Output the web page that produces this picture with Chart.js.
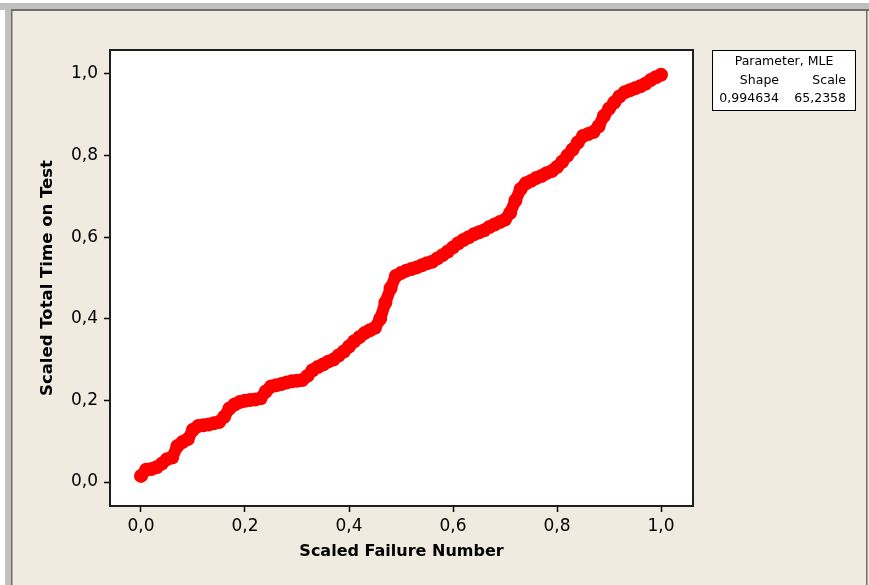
<!DOCTYPE html>
<html>
<head>
<meta charset="utf-8">
<title>TTT Plot</title>
<script src="https://cdn.jsdelivr.net/npm/chart.js@4.4.1/dist/chart.umd.min.js"></script>
<style>
  html, body { margin: 0; padding: 0; background: #efebe1; }
  canvas { display: block; }
</style>
</head>
<body>
<canvas id="ttt" width="869" height="585"></canvas>
<script>
// TTT plot - scaled failure number vs scaled total time on test

var failureNumber = [
  0.00, 0.01, 0.02, 0.03, 0.04, 0.05, 0.06, 0.07, 0.08, 0.09,
  0.10, 0.11, 0.12, 0.13, 0.14, 0.15, 0.16, 0.17, 0.18, 0.19,
  0.20, 0.21, 0.22, 0.23, 0.24, 0.25, 0.26, 0.27, 0.28, 0.29,
  0.30, 0.31, 0.32, 0.33, 0.34, 0.35, 0.36, 0.37, 0.38, 0.39,
  0.40, 0.41, 0.42, 0.43, 0.44, 0.45, 0.46, 0.47, 0.48, 0.49,
  0.50, 0.51, 0.52, 0.53, 0.54, 0.55, 0.56, 0.57, 0.58, 0.59,
  0.60, 0.61, 0.62, 0.63, 0.64, 0.65, 0.66, 0.67, 0.68, 0.69,
  0.70, 0.71, 0.72, 0.73, 0.74, 0.75, 0.76, 0.77, 0.78, 0.79,
  0.80, 0.81, 0.82, 0.83, 0.84, 0.85, 0.86, 0.87, 0.88, 0.89,
  0.90, 0.91, 0.92, 0.93, 0.94, 0.95, 0.96, 0.97, 0.98, 0.99,
  1.00
];

var timeOnTest = [
  0.015, 0.030, 0.032, 0.036, 0.045, 0.056, 0.060, 0.088, 0.098, 0.105,
  0.128, 0.137, 0.139, 0.141, 0.144, 0.147, 0.160, 0.180, 0.190, 0.196,
  0.199, 0.201, 0.202, 0.205, 0.222, 0.234, 0.237, 0.240, 0.244, 0.247,
  0.248, 0.250, 0.260, 0.274, 0.282, 0.288, 0.295, 0.300, 0.310, 0.320,
  0.332, 0.345, 0.355, 0.365, 0.372, 0.378, 0.400, 0.440, 0.475, 0.505,
  0.512, 0.518, 0.522, 0.526, 0.531, 0.536, 0.540, 0.548, 0.556, 0.565,
  0.575, 0.585, 0.593, 0.600, 0.607, 0.612, 0.617, 0.625, 0.631, 0.637,
  0.643, 0.660, 0.690, 0.718, 0.732, 0.738, 0.745, 0.750, 0.757, 0.762,
  0.772, 0.785, 0.800, 0.815, 0.832, 0.848, 0.853, 0.858, 0.872, 0.897,
  0.915, 0.930, 0.945, 0.955, 0.960, 0.965, 0.970, 0.976, 0.985, 0.992,
  0.998
];

var tickValues = [0.0, 0.2, 0.4, 0.6, 0.8, 1.0];

var paramHeader = 'Parameter, MLE';
var paramNames = ['Shape', 'Scale'];
var paramValues = ['0,994634', '65,2358'];

var points = failureNumber.map(function (x, i) {
  return { x: x, y: timeOnTest[i] };
});

function commaLabel(v) {
  return v.toFixed(1).replace('.', ',');
}

function keepTicks(scale) {
  scale.ticks = tickValues.map(function (v) { return { value: v }; });
}

// window frame, white plot area and the border around it
var framePlugin = {
  id: 'frame',
  beforeDraw: function (chart) {
    var c = chart.ctx;
    var a = chart.chartArea;
    c.save();
    c.fillStyle = '#ffffff';
    c.fillRect(0, 0, chart.width, chart.height);
    c.fillStyle = '#c0c0c0';
    c.fillRect(0, 3, chart.width, 7);
    c.fillRect(5, 3, 6, chart.height);
    c.fillStyle = '#efebe1';
    c.fillRect(12, 11, chart.width - 12, chart.height - 11);
    c.fillStyle = '#6e6e6e';
    c.fillRect(11, 9, chart.width - 11, 2);
    c.fillRect(11, 9, 1.5, chart.height);
    c.fillRect(866, 9, 1.5, chart.height);
    c.fillStyle = '#ffffff';
    c.fillRect(a.left, a.top, a.right - a.left, a.bottom - a.top);
    c.restore();
  },
  afterDatasetsDraw: function (chart) {
    var c = chart.ctx;
    var a = chart.chartArea;
    c.save();
    c.strokeStyle = '#1e1e1e';
    c.lineWidth = 2;
    c.strokeRect(a.left, a.top, a.right - a.left, a.bottom - a.top);
    c.restore();
  }
};

// parameter table in the top right
var paramPlugin = {
  id: 'params',
  afterDraw: function (chart) {
    var c = chart.ctx;
    c.save();
    c.fillStyle = '#ffffff';
    c.fillRect(712, 50, 144, 61);
    c.strokeStyle = '#000000';
    c.lineWidth = 1;
    c.strokeRect(712.5, 50.5, 143, 60);
    c.fillStyle = '#000000';
    c.font = '12.5px "DejaVu Sans"';
    c.textBaseline = 'middle';
    c.textAlign = 'center';
    c.fillText(paramHeader, 784, 62);
    c.textAlign = 'right';
    c.fillText(paramNames[0], 779, 81);
    c.fillText(paramNames[1], 846, 81);
    c.fillText(paramValues[0], 779, 99);
    c.fillText(paramValues[1], 846, 99);
    c.restore();
  }
};

var ctx = document.getElementById('ttt').getContext('2d');
var chart = new Chart(ctx, {
  type: 'scatter',
  data: {
    datasets: [{
      data: points,
      showLine: true,
      borderColor: '#ff0000',
      borderWidth: 12,
      backgroundColor: '#ff0000',
      pointBackgroundColor: '#ff0000',
      pointBorderWidth: 0,
      pointRadius: 7,
      borderJoinStyle: 'round',
      borderCapStyle: 'round'
    }]
  },
  options: {
    responsive: false,
    animation: false,
    layout: { padding: { left: 0, top: 50, right: 176, bottom: 0 } },
    plugins: {
      legend: { display: false },
      tooltip: { enabled: false }
    },
    scales: {
      x: {
        type: 'linear',
        min: -0.0596,
        max: 1.0615,
        afterBuildTicks: keepTicks,
        afterFit: function (scale) { scale.height = 79; },
        border: { display: false },
        grid: {
          drawOnChartArea: false,
          drawTicks: true,
          tickLength: 6,
          tickWidth: 1.5,
          color: '#000000'
        },
        ticks: {
          color: '#000000',
          padding: 4,
          maxRotation: 0,
          font: { family: '"DejaVu Sans"', size: 17 },
          callback: function (v) { return commaLabel(v); }
        },
        title: {
          display: true,
          text: 'Scaled Failure Number',
          color: '#000000',
          font: { family: '"DejaVu Sans"', size: 16, weight: 'bold' },
          padding: { top: 0, bottom: 24 }
        }
      },
      y: {
        type: 'linear',
        min: -0.0588,
        max: 1.0588,
        afterBuildTicks: keepTicks,
        afterFit: function (scale) { scale.width = 110; },
        border: { display: false },
        grid: {
          drawOnChartArea: false,
          drawTicks: true,
          tickLength: 6,
          tickWidth: 1.5,
          color: '#000000'
        },
        ticks: {
          color: '#000000',
          padding: 6,
          font: { family: '"DejaVu Sans"', size: 17 },
          callback: function (v) { return commaLabel(v); }
        },
        title: {
          display: true,
          text: 'Scaled Total Time on Test',
          color: '#000000',
          font: { family: '"DejaVu Sans"', size: 16.5, weight: 'bold' },
          padding: { top: 38, bottom: 0 }
        }
      }
    }
  },
  plugins: [framePlugin, paramPlugin]
});
</script>
</body>
</html>
